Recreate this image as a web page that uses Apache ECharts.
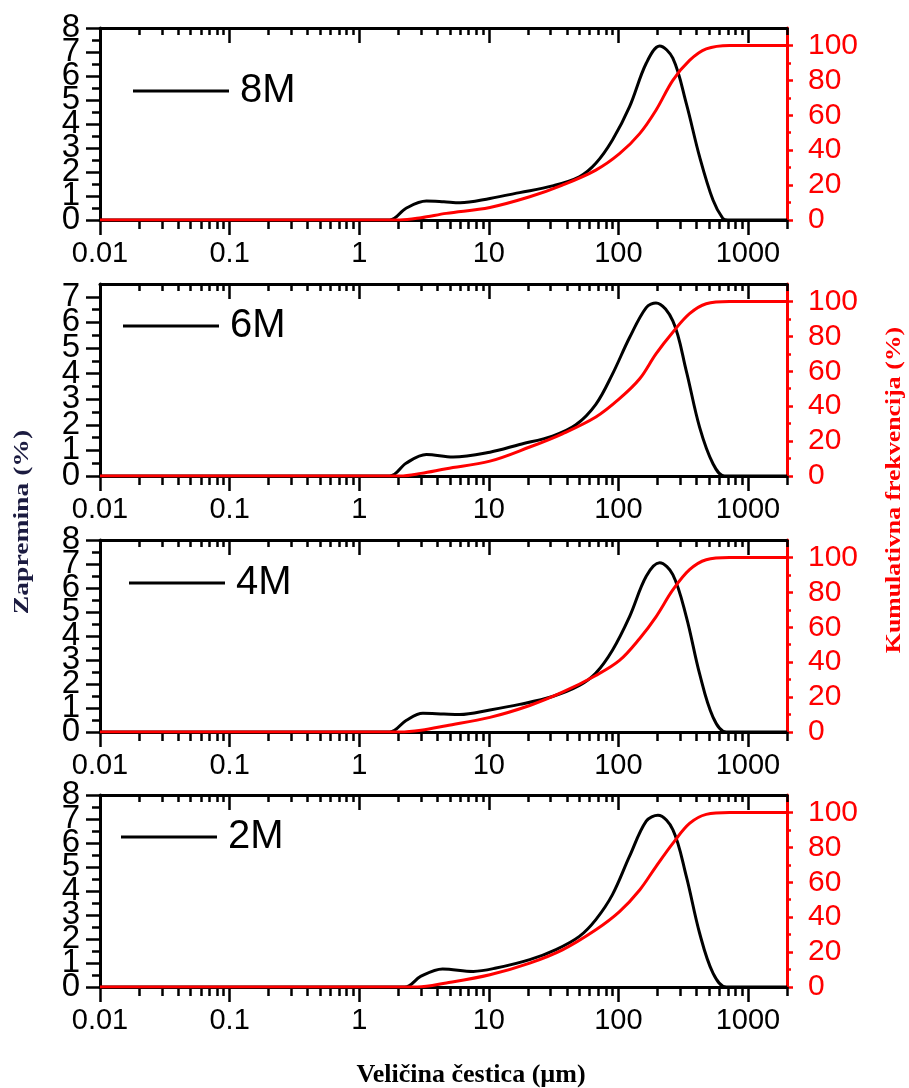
<!DOCTYPE html>
<html><head><meta charset="utf-8">
<script src="https://cdn.jsdelivr.net/npm/echarts@6/dist/echarts.min.js"></script>
<style>html,body{margin:0;padding:0;background:#fff}#c{width:909px;height:1088px}</style>
</head><body><div id="c"></div>
<script>
// ---------------- data ----------------
const panelNames = ['8M', '6M', '4M', '2M'];
const xTickLabels = [0.01, 0.1, 1, 10, 100, 1000];
const volTickLabels = [0, 1, 2, 3, 4, 5, 6, 7, 8];
const cumTickLabels = [0, 20, 40, 60, 80, 100];

// 8M
const size8M = [0.01, 1.72, 2.3, 3.3, 4.5, 6.0, 10.2, 17.3, 31, 50, 67, 90, 122, 164, 208, 263, 334, 423, 537, 639, 700, 2000];
const vol8M  = [0, 0, 0.49, 0.79, 0.76, 0.72, 0.9, 1.14, 1.42, 1.8, 2.36, 3.33, 4.72, 6.53, 7.25, 6.74, 4.86, 2.64, 0.83, 0.07, 0, 0];
const sizeCum8M = [0.01, 2.06, 3.0, 4.7, 10.2, 20.7, 37, 67, 102, 146, 195, 263, 354, 476, 720, 2000];
const cum8M     = [0, 0, 1.3, 3.8, 7.2, 13.3, 20, 28.6, 38, 49.5, 62.9, 80, 91.4, 98, 100, 100];

// 6M
const size6M = [0.01, 1.72, 2.3, 3.3, 5.3, 10.2, 17.3, 31, 47, 67, 90, 122, 164, 195, 263, 334, 423, 537, 660, 2000];
const vol6M  = [0, 0, 0.5, 0.84, 0.74, 0.93, 1.23, 1.56, 2.0, 2.8, 3.98, 5.41, 6.58, 6.76, 6.06, 4.11, 1.91, 0.48, 0, 0];
const sizeCum6M = [0.01, 2.06, 3.0, 4.7, 10.2, 20.7, 37, 67, 102, 146, 195, 263, 354, 476, 720, 2000];
const cum6M     = [0, 0, 1.5, 4.2, 8.5, 16.6, 24.2, 33.8, 44.3, 55.7, 70, 82.4, 93, 98.7, 100, 100];

// 4M
const size4M = [0.01, 1.72, 2.3, 3.1, 4.5, 5.97, 10.2, 17.3, 31, 50, 67, 90, 122, 164, 208, 263, 334, 423, 537, 680, 2000];
const vol4M  = [0, 0, 0.48, 0.78, 0.75, 0.73, 0.92, 1.15, 1.48, 1.94, 2.46, 3.41, 4.81, 6.49, 7.05, 6.56, 4.81, 2.43, 0.62, 0, 0];
const sizeCum4M = [0.01, 2.06, 3.0, 4.7, 10.2, 20.7, 37, 67, 102, 146, 195, 263, 354, 476, 720, 2000];
const cum4M     = [0, 0, 1.0, 3.6, 8.4, 15.2, 22.8, 32.4, 41, 53.6, 66, 81.4, 93, 98.7, 100, 100];

// 2M
const size2M = [0.01, 2.25, 3.0, 4.4, 7.6, 11.4, 20.7, 33, 50, 67, 90, 122, 164, 202, 263, 334, 423, 537, 680, 2000];
const vol2M  = [0, 0, 0.45, 0.75, 0.65, 0.79, 1.14, 1.56, 2.11, 2.81, 3.85, 5.45, 6.91, 7.16, 6.56, 4.62, 2.25, 0.58, 0, 0];
const sizeCum2M = [0.01, 2.8, 4.7, 10.2, 20.7, 37, 67, 102, 146, 195, 263, 354, 476, 720, 2000];
const cum2M     = [0, 0, 2.3, 7, 13.7, 21.3, 32.8, 43.2, 55.6, 69, 82.3, 93.7, 98.9, 100, 100];

// ---------------- layout ----------------
const sizes = [size8M, size6M, size4M, size2M];
const vols = [vol8M, vol6M, vol4M, vol2M];
const sizesCum = [sizeCum8M, sizeCum6M, sizeCum4M, sizeCum2M];
const cums = [cum8M, cum6M, cum4M, cum2M];
const gridTops = [28, 284, 540, 795];
const gridH = 192;
const volMax = [8, 7.5, 8, 8];
const legendLeft = [133, 123, 129, 121];
const legendMid = [94, 329, 586, 840];

const X_MIN = 0.01, X_MAX = 2000;
const xMinor = [];
for (let e = -2; e <= 3; e++) for (let m = 2; m <= 9; m++) { const v = +(m * Math.pow(10, e)).toPrecision(6); if (v <= X_MAX) xMinor.push(v); }

const FONT = '"Liberation Sans", Arial, sans-serif';
const fmt = v => String(+(+v).toPrecision(6));
const zip = (a, b) => a.map((x, k) => [x, b[k]]);

const grids = [], xAxes = [], yAxes = [], series = [], legends = [];
const tickStyle = c => ({ color: c, width: 2.5 });

panelNames.forEach((name, i) => {
  grids.push({ left: 100, right: 122, top: gridTops[i], height: gridH });
  const base = { type: 'log', logBase: 10, min: X_MIN, max: X_MAX, gridIndex: i, splitLine: { show: false } };
  const xi = xAxes.length;
  xAxes.push(Object.assign({}, base, {
    position: 'bottom',
    axisLine: { show: true, onZero: false, lineStyle: { color: '#000', width: 3 } },
    axisTick: { show: true, customValues: xTickLabels, length: 15, lineStyle: tickStyle('#000') },
    axisLabel: { show: true, customValues: xTickLabels, formatter: fmt, fontSize: 29, fontFamily: FONT, color: '#000', margin: 19, showMinLabel: true, showMaxLabel: true, hideOverlap: false }
  }));
  xAxes.push(Object.assign({}, base, {
    position: 'bottom',
    axisLine: { show: false, onZero: false },
    axisTick: { show: true, customValues: xMinor, length: 9, lineStyle: tickStyle('#000') },
    axisLabel: { show: false }
  }));
  xAxes.push(Object.assign({}, base, {
    position: 'top',
    axisLine: { show: true, onZero: false, lineStyle: { color: '#000', width: 3 } },
    axisTick: { show: true, inside: true, customValues: xTickLabels, length: 15, lineStyle: tickStyle('#000') },
    axisLabel: { show: false }
  }));
  xAxes.push(Object.assign({}, base, {
    position: 'top',
    axisLine: { show: false, onZero: false },
    axisTick: { show: true, inside: true, customValues: xMinor, length: 7, lineStyle: tickStyle('#000') },
    axisLabel: { show: false }
  }));

  const volMajor = volTickLabels.filter(v => v <= volMax[i]);
  const volEven = volMajor.filter(v => v % 2 === 0);
  const volOdd = volMajor.filter(v => v % 2 === 1);
  const volMinor = volTickLabels.map(v => v + 0.5).filter(v => v < volMax[i]);
  const volLabel = { fontSize: 33, fontFamily: FONT, color: '#000', margin: 20, showMinLabel: true, showMaxLabel: true, hideOverlap: false };
  const yi = yAxes.length;
  yAxes.push({
    type: 'value', gridIndex: i, position: 'left', min: 0, max: volMax[i], splitLine: { show: false },
    axisLine: { show: true, onZero: false, lineStyle: { color: '#000', width: 3 } },
    axisTick: { show: true, customValues: volMajor, length: 14, lineStyle: tickStyle('#000') },
    axisLabel: Object.assign({ show: true, customValues: volEven }, volLabel)
  });
  yAxes.push({
    type: 'value', gridIndex: i, position: 'left', min: 0, max: volMax[i], splitLine: { show: false },
    axisLine: { show: false, onZero: false },
    axisTick: { show: false },
    axisLabel: Object.assign({ show: true, customValues: volOdd }, volLabel)
  });
  yAxes.push({
    type: 'value', gridIndex: i, position: 'left', min: 0, max: volMax[i], splitLine: { show: false },
    axisLine: { show: false, onZero: false },
    axisTick: { show: true, customValues: volMinor, length: 8, lineStyle: tickStyle('#000') },
    axisLabel: { show: false }
  });
  const yr = yAxes.length;
  yAxes.push({
    type: 'value', gridIndex: i, position: 'right', min: 0, max: 110, splitLine: { show: false },
    axisLine: { show: true, onZero: false, lineStyle: { color: '#ff0000', width: 3 } },
    axisTick: { show: true, customValues: cumTickLabels, length: 6, lineStyle: tickStyle('#ff0000') },
    axisLabel: { show: true, customValues: cumTickLabels, fontSize: 30, fontFamily: FONT, color: '#ff0000', margin: 21, showMinLabel: true, showMaxLabel: true, hideOverlap: false }
  });
  yAxes.push({
    type: 'value', gridIndex: i, position: 'right', min: 0, max: 110, splitLine: { show: false },
    axisLine: { show: false, onZero: false },
    axisTick: { show: true, customValues: cumTickLabels.slice(0, -1).map(v => v + 10), length: 4, lineStyle: tickStyle('#ff0000') },
    axisLabel: { show: false }
  });

  series.push({
    type: 'line', name: name, xAxisIndex: xi, yAxisIndex: yi,
    data: zip(sizes[i], vols[i]), smooth: 0.35, symbol: 'none',
    lineStyle: { color: '#000', width: 3 }, itemStyle: { color: '#000' }, z: 3
  });
  series.push({
    type: 'line', name: name + ' kumulativno', xAxisIndex: xi, yAxisIndex: yr,
    data: zip(sizesCum[i], cums[i]), smooth: 0.35, symbol: 'none',
    lineStyle: { color: '#ff0000', width: 3 }, itemStyle: { color: '#ff0000' }, z: 4
  });

  legends.push({
    data: [name], left: legendLeft[i], top: legendMid[i] - 23, padding: 0, itemGap: 0,
    icon: 'rect', itemWidth: 96, itemHeight: 3, selectedMode: false,
    itemStyle: { color: '#000', borderWidth: 0 },
    textStyle: { fontSize: 40, fontFamily: FONT, color: '#000', padding: [0, 0, 0, 6] }
  });
});

const chart = echarts.init(document.getElementById('c'), null, { renderer: 'canvas' });
chart.setOption({
  animation: false,
  backgroundColor: '#fff',
  grid: grids, xAxis: xAxes, yAxis: yAxes, series: series, legend: legends,
  graphic: [
    { type: 'text', x: 23, y: 522, rotation: Math.PI / 2, scaleX: 1.38,
      style: { text: 'Zapremina (%)', font: 'bold 20px "Liberation Serif", serif', fill: '#1b1b40', align: 'center', verticalAlign: 'middle', textAlign: 'center', textVerticalAlign: 'middle' } },
    { type: 'text', x: 895, y: 490, rotation: Math.PI / 2, scaleX: 1.29,
      style: { text: 'Kumulativna frekvencija (%)', font: 'bold 20px "Liberation Serif", serif', fill: '#ff0000', align: 'center', verticalAlign: 'middle', textAlign: 'center', textVerticalAlign: 'middle' } },
    { type: 'text', x: 471, y: 1075,
      style: { text: 'Veličina čestica (µm)', font: 'bold 26px "Liberation Serif", serif', fill: '#000', align: 'center', verticalAlign: 'middle', textAlign: 'center', textVerticalAlign: 'middle' } }
  ]
});
</script>
</body></html>
